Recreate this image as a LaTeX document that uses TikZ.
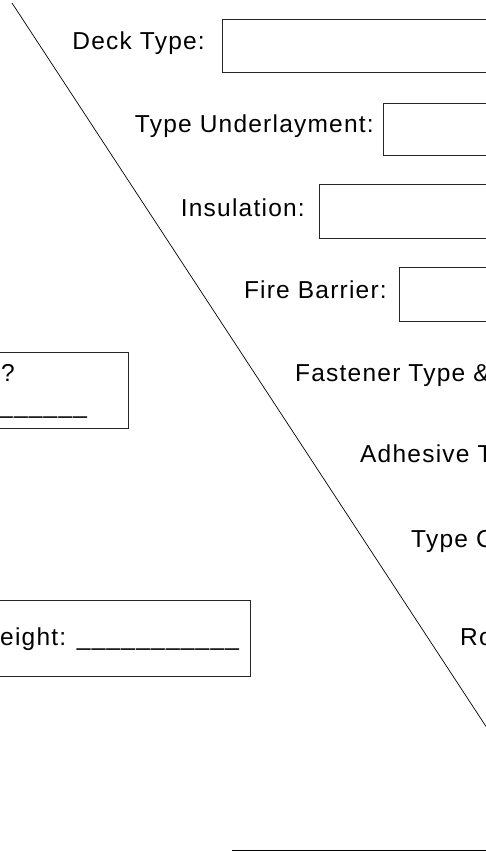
\documentclass[tikz,border=0pt]{standalone}
\usepackage{fontspec}
\setmainfont{Liberation Sans}[LetterSpace=5]
\begin{document}
\begin{tikzpicture}[x=1pt,y=-1pt,
  lbl/.style={inner sep=0pt,font=\fontsize{24.5}{28}\selectfont},
  fieldbox/.style={draw=black!85,line width=0.9pt},
  rule/.style={draw=black,line width=0.7pt}]
\clip (0,0) rectangle (486,851);
\fill[white] (0,0) rectangle (486,851);
% diagonal
\coordinate (d1) at (12,3);
\coordinate (d2) at (487,728);
\draw[rule] (d1) -- (d2);
% right boxes
\draw[fieldbox] (222,19) rectangle (500,72);
\draw[fieldbox] (383,103) rectangle (500,155);
\draw[fieldbox] (319,184) rectangle (500,238);
\draw[fieldbox] (399,267) rectangle (500,321);
% left boxes
\draw[fieldbox] (-10,352) rectangle (128,428);
\draw[fieldbox] (-10,600) rectangle (250,676);
% labels
\node[lbl,anchor=base east] (deck) at (205,49) {Deck Type:};
\node[lbl,anchor=base east] (under) at (374,132) {Type Underlayment:};
\node[lbl,anchor=base east] (insul) at (305,216) {Insulation:};
\node[lbl,anchor=base east] (fire) at (387,298) {Fire Barrier:};
\node[lbl,anchor=base west] (fast) at (295,381) {Fastener Type \&};
\node[lbl,anchor=base west] (adh) at (360,462) {Adhesive T};
\node[lbl,anchor=base west] (typec) at (411,547) {Type C};
\node[lbl,anchor=base west] (ro) at (460,645) {Ro};
\node[lbl,anchor=base west] (q) at (1,381) {?};
\node[lbl,anchor=base west] (qline) at (-1,413) {\_\_\_\_\_\_};
\node[lbl,anchor=base west] (weight) at (0,645) {eight: \_\_\_\_\_\_\_\_\_\_\_};
% bottom rule
\coordinate (b1) at (232,850);
\coordinate (b2) at (487,850);
\draw[rule] (b1) -- (b2);
\end{tikzpicture}
\end{document}
